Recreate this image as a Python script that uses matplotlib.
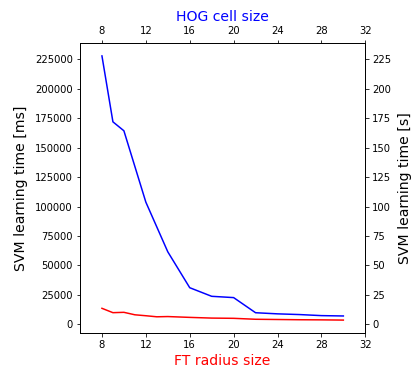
import numpy as np
from matplotlib import pyplot as plt

# FT radius size vs learning time (ms)
ft_radius = [8, 9, 10, 11, 12, 13, 14, 16, 18, 20, 22, 24, 26, 28, 30]
ft_time = [13600, 9900, 10200, 8100, 7300, 6400, 6600, 5900, 5300, 5100, 4300, 4100, 3900, 3800, 3600]

# HOG cell size vs learning time (ms)
hog_cell = [8, 9, 10, 12, 14, 16, 18, 20, 22, 24, 26, 28, 30]
hog_time = [228000, 172000, 164400, 103800, 61600, 31100, 23800, 22700, 9850, 8900, 8300, 7400, 7100]

xticks = [8, 12, 16, 20, 24, 28, 32]

fig = plt.figure(figsize=(413 / 72, 370 / 72), dpi=72)
ax = fig.add_axes([80 / 413, 1 - 333.3 / 370, 285.3 / 413, 290.6 / 370])

ax.plot(ft_radius, ft_time, color='red')
ax.set_xlim(6, 32)
ax.set_xticks(xticks)
ax.set_xlabel('FT radius size', color='red', fontsize=14)
ax.set_ylabel('SVM learning time [ms]', fontsize=14, labelpad=7)

ax_top = ax.twiny()
ax_top.plot(hog_cell, hog_time, color='blue')
ax_top.set_xlim(6, 32)
ax_top.set_xticks(xticks)
ax_top.set_xlabel('HOG cell size', color='blue', fontsize=14, labelpad=5)

ymin, ymax = ax.get_ylim()
ymin = min(ymin, ax_top.get_ylim()[0])
ymax = max(ymax, ax_top.get_ylim()[1])
ax.set_ylim(ymin, ymax)
ax.set_yticks(np.arange(0, 225001, 25000))

ax_right = ax.twinx()
ax_right.set_ylim(ymin / 1000, ymax / 1000)
ax_right.set_yticks(np.arange(0, 226, 25))
ax_right.set_ylabel('SVM learning time [s]', fontsize=14, labelpad=7)

plt.savefig('out.png', dpi=72)
